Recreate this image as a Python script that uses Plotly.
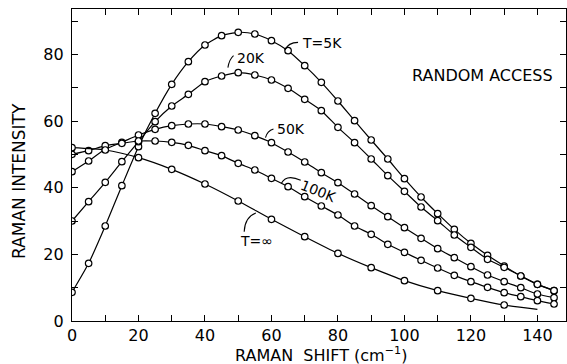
import plotly.graph_objects as go

shift = [0, 5, 10, 15, 20, 25, 30, 35, 40, 45, 50, 55, 60, 65, 70, 75, 80, 85, 90, 95,
         100, 105, 110, 115, 120, 125, 130, 135, 140, 145]

t5k = [8.6, 17.3, 28.5, 40.6, 52.3, 62.3, 71.0, 77.8, 82.8, 85.6, 86.6, 86.1, 84.1, 81.1, 76.6,
       71.6, 66.0, 60.1, 54.3, 48.6, 42.7, 37.2, 32.2, 27.5, 23.3, 19.7, 16.5, 13.5, 11.0, 9.1]
t20k = [30.0, 35.8, 41.6, 47.8, 53.8, 59.8, 64.5, 68.0, 71.8, 73.5, 74.5, 73.8, 72.3, 69.8, 66.5,
        63.1, 58.1, 53.5, 48.6, 43.6, 38.9, 34.2, 30.1, 25.8, 22.1, 18.5, 16.1, 13.5, 11.0, 9.1]
t50k = [44.8, 48.0, 51.5, 53.6, 55.8, 57.5, 58.6, 59.1, 59.1, 58.3, 57.3, 55.6, 53.5, 50.7, 47.7,
        44.5, 41.5, 38.1, 34.6, 31.3, 28.0, 24.8, 21.7, 19.0, 16.3, 13.8, 11.8, 10.0, 8.1, 7.0]
t100k = [50.0, 51.1, 52.6, 53.3, 54.0, 54.0, 53.6, 52.7, 51.1, 49.6, 47.3, 45.3, 42.8, 40.3, 37.3,
         34.5, 31.8, 28.5, 26.0, 23.0, 20.6, 18.2, 15.9, 13.7, 11.8, 10.1, 8.5, 7.3, 6.1, 5.1]

shift_inf = [0, 10, 20, 30, 40, 50, 60, 70, 80, 90, 100, 110, 120, 130, 140]
tinf = [52.0, 51.3, 49.0, 45.5, 41.1, 36.0, 30.5, 25.3, 20.3, 16.0, 12.1, 9.1, 6.8, 4.8, 3.5]
tinf_marker = [True] * 14 + [False]

FONT = "DejaVu Sans"
LINE = dict(color="black", width=1.2, shape="spline", smoothing=0.6)
MARKER = dict(symbol="circle", size=6.5, color="white", line=dict(color="black", width=1.2))

fig = go.Figure()

def add(xs, ys):
    fig.add_trace(go.Scatter(x=xs, y=ys, mode="lines+markers", line=LINE, marker=MARKER,
                             showlegend=False, hoverinfo="skip"))

add(shift, t5k)
add(shift, t20k)
add(shift, t50k)
add(shift, t100k)
# T = infinity: line runs to 140, circles only where measured
fig.add_trace(go.Scatter(x=shift_inf, y=tinf, mode="lines", line=LINE,
                         showlegend=False, hoverinfo="skip"))
fig.add_trace(go.Scatter(x=[x for x, m in zip(shift_inf, tinf_marker) if m],
                         y=[y for y, m in zip(tinf, tinf_marker) if m],
                         mode="markers", marker=MARKER, showlegend=False, hoverinfo="skip"))

axis_common = dict(showline=True, linecolor="black", linewidth=1.3, mirror="ticks",
                   ticks="inside", ticklen=6, tickwidth=1.2, tickcolor="black",
                   showgrid=False, zeroline=False,
                   tickfont=dict(family=FONT, size=16, color="black"),
                   minor=dict(ticks="inside", ticklen=6, tickwidth=1.2, tickcolor="black",
                              dtick=10, showgrid=False))

fig.update_xaxes(range=[0, 148.6], tick0=0, dtick=20, **axis_common)
fig.update_yaxes(range=[0, 93.6], tick0=0, dtick=20, ticklabelstandoff=4, **axis_common)

ann_font = dict(family=FONT, size=16, color="black")
fig.add_annotation(x=1.0, y=(321 - 75) / 312, xref="paper", yref="paper", xshift=-11,
                   text="RANDOM ACCESS", showarrow=False, xanchor="right", yanchor="middle",
                   font=ann_font)
fig.add_annotation(x=0, y=(321 - 181) / 312, xref="paper", yref="paper", xshift=-53,
                   text="RAMAN INTENSITY", textangle=-90, showarrow=False,
                   xanchor="center", yanchor="middle", font=dict(family=FONT, size=17, color="black"))
fig.add_annotation(x=(321 - 72) / 494, y=0, xref="paper", yref="paper", yshift=-33,
                   text="RAMAN  SHIFT (cm<sup>−1</sup>)", showarrow=False,
                   xanchor="center", yanchor="middle", font=dict(family=FONT, size=16, color="black"))

lab_font = dict(family=FONT, size=14, color="black")
fig.add_annotation(x=68.5, y=83.5, text="T=5K", showarrow=False, xanchor="left",
                   yanchor="middle", font=lab_font)
fig.add_annotation(x=49.0, y=79.0, text="20K", showarrow=False, xanchor="left",
                   yanchor="middle", font=lab_font)
fig.add_annotation(x=61.0, y=57.5, text="50K", showarrow=False, xanchor="left",
                   yanchor="middle", font=lab_font)
fig.add_annotation(x=74.0, y=39.0, text="100K", showarrow=False, textangle=22,
                   xanchor="center", yanchor="middle", font=lab_font)
fig.add_annotation(x=55.5, y=24.0, text="T=∞", showarrow=False, xanchor="center",
                   yanchor="middle", font=lab_font)

def leader(path):
    fig.add_shape(type="path", path=path, xref="x", yref="y",
                  line=dict(color="black", width=1.1))

leader("M 68,83.6 Q 65,83.6 64,81.2")
leader("M 48.6,79.6 Q 47.3,78.5 46.9,76")
leader("M 60.6,57.6 Q 58.7,57 58.2,55")
leader("M 68.8,42.2 Q 64.5,44.2 63,41.3")
leader("M 51.8,26.8 Q 52,31.2 55.3,32.4")

fig.update_layout(width=567, height=364, margin=dict(l=72, r=1, t=9, b=43),
                  paper_bgcolor="white", plot_bgcolor="white",
                  font=dict(family=FONT, color="black"))

fig.write_html("out.html")
